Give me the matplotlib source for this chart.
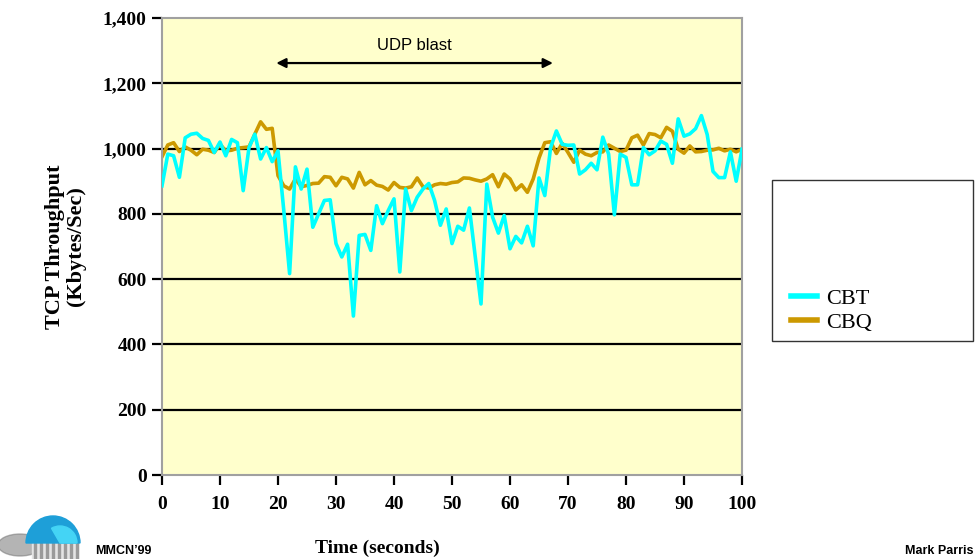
import numpy as np
import matplotlib.pyplot as plt
from matplotlib.patches import Wedge, Rectangle, Ellipse

# time in seconds, one sample per second
seconds = list(range(0, 101))

cbt = [886, 983, 978, 912, 1033, 1044, 1047, 1031, 1025, 988,
       1020, 978, 1028, 1018, 871, 1003, 1044, 968, 1003, 960,
       993, 810, 617, 944, 876, 937, 759, 800, 841, 843,
       709, 668, 707, 487, 734, 737, 688, 825, 770, 810,
       846, 622, 876, 810, 851, 876, 893, 841, 765, 815,
       709, 762, 750, 818, 670, 524, 891, 790, 741, 795,
       693, 731, 711, 762, 702, 910, 856, 1003, 1054, 1013,
       1010, 1011, 922, 935, 955, 935, 1035, 983, 797, 983,
       973, 889, 889, 1003, 981, 993, 1023, 1013, 955, 1091,
       1038, 1045, 1061, 1101, 1043, 930, 911, 911, 990, 900,
       998]

cbq = [975, 1011, 1018, 991, 1005, 995, 981, 998, 995, 988,
       1013, 993, 995, 1001, 1003, 1005, 1044, 1082, 1059, 1062,
       917, 886, 876, 907, 883, 887, 893, 894, 914, 912,
       886, 912, 907, 879, 927, 889, 902, 888, 884, 873,
       896, 881, 879, 883, 910, 883, 879, 889, 893, 891,
       896, 898, 910, 909, 904, 900, 907, 920, 883, 922,
       907, 873, 889, 866, 907, 971, 1018, 1021, 985, 1016,
       988, 958, 995, 983, 978, 988, 990, 1011, 1001, 991,
       995, 1033, 1041, 1011, 1046, 1043, 1033, 1065, 1053, 998,
       986, 1008, 990, 991, 995, 996, 1001, 993, 998, 990,
       998]

series_names = ['CBT', 'CBQ']
x_ticks = [0, 10, 20, 30, 40, 50, 60, 70, 80, 90, 100]
y_ticks = [0, 200, 400, 600, 800, 1000, 1200, 1400]

serif = 'Liberation Serif'
sans = 'Liberation Sans'

fig = plt.figure(figsize=(9.8, 5.59), dpi=100)
ax = fig.add_axes([162 / 980, 1 - 475 / 559, 580 / 980, 457 / 559])
ax.set_facecolor('#FFFFCC')

for v in y_ticks[1:-1]:
    ax.axhline(v, color='black', lw=1.6, zorder=1)

ax.plot(seconds, cbt, color='#00FFFF', lw=2.6, label=series_names[0], zorder=3)
ax.plot(seconds, cbq, color='#CC9900', lw=2.6, label=series_names[1], zorder=2)

ax.set_xlim(0, 100)
ax.set_ylim(0, 1400)
ax.set_xticks(x_ticks)
ax.set_yticks(y_ticks)
ax.set_xticklabels([str(t) for t in x_ticks], fontfamily=serif, fontweight='bold', fontsize=14)
ax.set_yticklabels([f'{v:,}' for v in y_ticks], fontfamily=serif, fontweight='bold', fontsize=14)
ax.tick_params(axis='both', direction='out', length=7, width=1.6, color='black', pad=4)
ax.tick_params(axis='x', pad=8)
for s in ax.spines.values():
    s.set_color('#A0A0A0')
    s.set_linewidth(1.5)

ax.set_ylabel('TCP Throughput\n(Kbytes/Sec)', fontfamily=serif, fontweight='bold',
              fontsize=16, labelpad=12, linespacing=1.1)
fig.text(377 / 980, 1 - 548 / 559, 'Time (seconds)', fontfamily=serif, fontweight='bold',
         fontsize=14, ha='center', va='center')

# UDP blast arrow
ax.annotate('', xy=(19.7, 1262), xytext=(67.4, 1262),
            arrowprops=dict(arrowstyle='<|-|>', color='black', lw=1.6,
                            mutation_scale=14, shrinkA=0, shrinkB=0))
ax.text(43.5, 1317, 'UDP blast', fontfamily=sans, fontsize=12, ha='center', va='center')

# legend box (fixed size, entries near its bottom)
fig.patches.append(Rectangle((772 / 980, 1 - 341 / 559), 201 / 980, 161 / 559,
                             transform=fig.transFigure, facecolor='white',
                             edgecolor='#333333', lw=1.0, zorder=0))
leg = fig.legend(loc='lower left', bbox_to_anchor=(791 / 980, 1 - 333 / 559),
                 frameon=False, borderaxespad=0, borderpad=0,
                 prop={'family': serif, 'size': 16}, handlelength=1.15, handletextpad=0.45,
                 labelspacing=0.15)
for line in leg.get_lines():
    line.set_linewidth(4)

# footer
fig.text(95 / 980, 1 - 551 / 559, "MMCN\u201999", fontfamily=sans, fontweight='bold',
         fontsize=9, ha='left', va='center')
fig.text(905 / 980, 1 - 551 / 559, 'Mark Parris', fontfamily=sans, fontweight='bold',
         fontsize=9, ha='left', va='center')

# small logo: blue dome on pillars
logo = fig.add_axes([0, 0, 95 / 980, 72 / 559])
logo.set_xlim(0, 95)
logo.set_ylim(0, 72)
logo.axis('off')
logo.add_patch(Ellipse((20, 14), 44, 22, color='#777777', alpha=0.55))
logo.add_patch(Rectangle((32, 0), 46, 16, color='#e4e4e4'))
for px in range(34, 78, 6):
    logo.add_patch(Rectangle((px, 0), 2, 16, color='#9a9a9a'))
logo.add_patch(Wedge((53, 16), 27, 0, 180, color='#1E9FD8'))
logo.add_patch(Wedge((60, 16), 17, 0, 120, color='#44D4F5'))

fig.savefig('out.png', dpi=100)
